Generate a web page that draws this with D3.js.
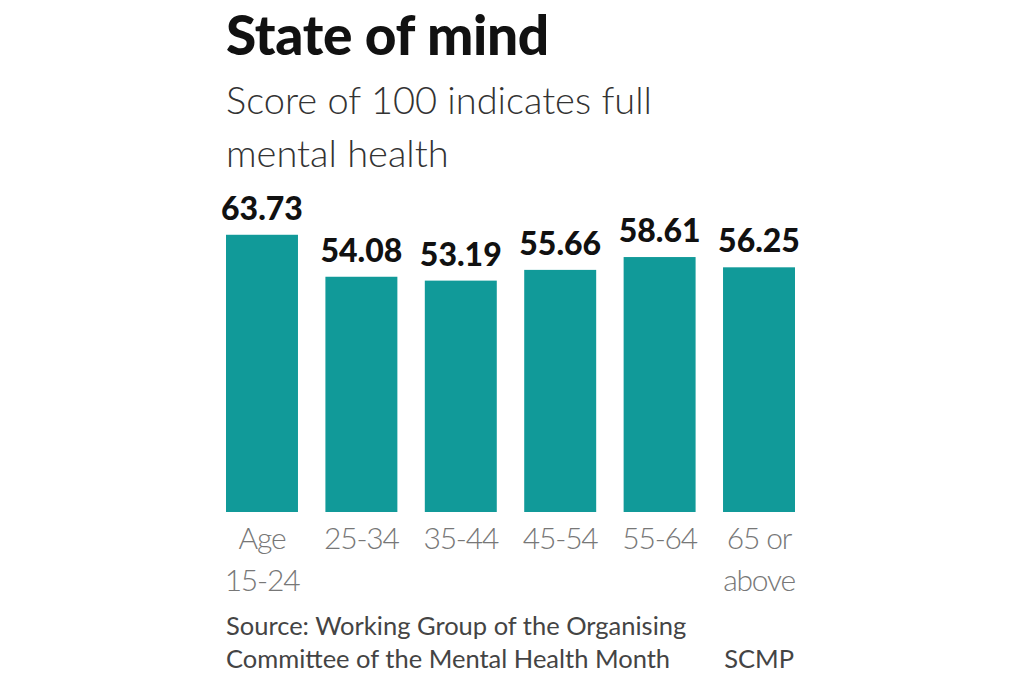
<!DOCTYPE html>
<html>
<head>
<meta charset="utf-8">
<script src="https://cdn.jsdelivr.net/npm/d3@7"></script>
<style>
  body { margin: 0; background: #fff; }
  svg { display: block; }
</style>
</head>
<body>
<div id="chart"></div>
<script>
const width = 1020;
const height = 680;

// age groups, each label split over lines
const categories = [
    ["Age", "15-24"],
    ["25-34"],
    ["35-44"],
    ["45-54"],
    ["55-64"],
    ["65 or", "above"]
];
const scores = [63.73, 54.08, 53.19, 55.66, 58.61, 56.25];
const valueLabels = ["63.73", "54.08", "53.19", "55.66", "58.61", "56.25"];

const svg = d3.select('#chart')
    .append('svg')
    .attr('width', width)
    .attr('height', height);

const x = d3.scaleBand()
    .domain(d3.range(scores.length))
    .range([226, 795])
    .paddingInner(0.276)
    .paddingOuter(0);

const y = d3.scaleLinear()
    .domain([0, 100])   // score out of 100
    .range([512, 77]);

// title + subtitle
svg.append('text')
    .attr('x', 226)
    .attr('y', 55)
    .attr('font-family', 'Lato')
    .attr('font-weight', 900)
    .attr('font-size', 55)
    .attr('letter-spacing', -0.3)
    .attr('fill', '#111')
    .text('State of mind');

const sub = svg.append('text')
    .attr('font-family', 'Lato')
    .attr('font-weight', 300)
    .attr('font-size', 38)
    .attr('fill', '#333');
sub.append('tspan').attr('x', 226).attr('y', 114).text('Score of 100 indicates full');
sub.append('tspan').attr('x', 226).attr('y', 167).text('mental health');

// bars
svg.selectAll('.bar')
    .data(scores)
    .enter().append('rect')
    .attr('class', 'bar')
    .attr('x', (d, i) => x(i))
    .attr('y', d => y(d))
    .attr('width', x.bandwidth())
    .attr('height', d => y(0) - y(d))
    .attr('fill', '#119a99');

// numbers on top
svg.selectAll('.val')
    .data(scores)
    .enter().append('text')
    .attr('class', 'val')
    .attr('x', (d, i) => x(i) + x.bandwidth() / 2)
    .attr('y', d => y(d) - 15)
    .attr('text-anchor', 'middle')
    .attr('font-family', 'Lato')
    .attr('font-weight', 900)
    .attr('font-size', 32)
    .attr('fill', '#111')
    .text((d, i) => valueLabels[i]);

// category labels under the bars
const cat = svg.selectAll('.cat')
    .data(categories)
    .enter().append('text')
    .attr('class', 'cat')
    .attr('text-anchor', 'middle')
    .attr('font-family', 'Lato')
    .attr('font-weight', 300)
    .attr('font-size', 30)
    .attr('letter-spacing', -1.2)
    .attr('fill', '#777');

cat.selectAll('tspan')
    .data((d, i) => d.map(line => ({line, i})))
    .enter().append('tspan')
    .attr('x', d => x(d.i) + x.bandwidth() / 2)
    .attr('y', (d, j) => 549 + j * 42)
    .text(d => d.line);

// source
const src = svg.append('text')
    .attr('font-family', 'Lato')
    .attr('font-size', 25.5)
    .attr('fill', '#444');
src.append('tspan').attr('x', 226).attr('y', 635).text('Source: Working Group of the Organising');
src.append('tspan').attr('x', 226).attr('y', 668).text('Committee of the Mental Health Month');

svg.append('text')
    .attr('x', 794)
    .attr('y', 668)
    .attr('text-anchor', 'end')
    .attr('font-family', 'Lato')
    .attr('font-size', 25.5)
    .attr('fill', '#444')
    .text('SCMP');
</script>
</body>
</html>
